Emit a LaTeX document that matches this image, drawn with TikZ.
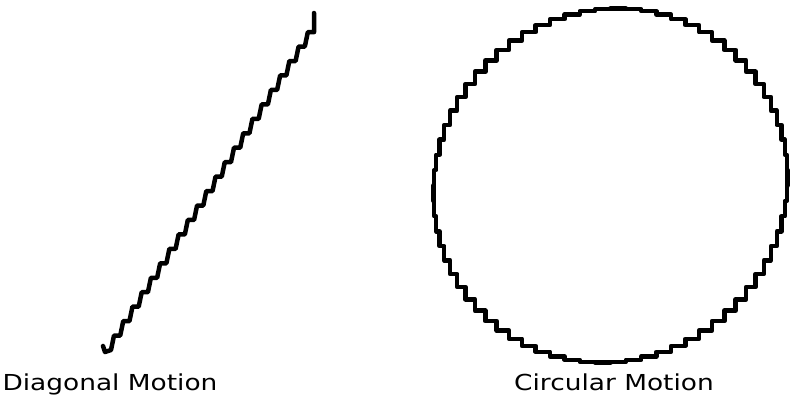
\documentclass[tikz,border=0pt]{standalone}
\usepackage{fontspec}
\setmainfont{DejaVu Sans}
\usepackage{tikz}
\usetikzlibrary{positioning}
\tikzset{
  stair/.style={draw=black,line width=4.5pt,line join=round,line cap=round},
  caption/.style={font=\fontsize{22}{26}\selectfont,xscale=1.2,anchor=base,inner sep=0pt}
}

\begin{document}
\begin{tikzpicture}[x=1pt,y=-1pt]
  \useasboundingbox[fill=white] (0,0) rectangle (790,399);
  \clip (0,0) rectangle (790,399);
  % diagonal stepped trace
  \draw[stair] (103,346) -- (105,352) -- (111,350)
    \foreach \k in {1,...,22}{ -- ++(3,-14.45) -- ++(6.23,0) } -- (314,13);
  % circular stepped trace
  \begin{scope}[shift={(610.5,185.5)}]
    \draw[stair] (0:177) \foreach \a in {5,10,...,360}{ -| (\a:177) };
  \end{scope}
  \node[caption] (diaglab) at (110,390) {Diagonal Motion};
  \node[caption] (circlab) at (614,390) {Circular Motion};
\end{tikzpicture}
\end{document}
